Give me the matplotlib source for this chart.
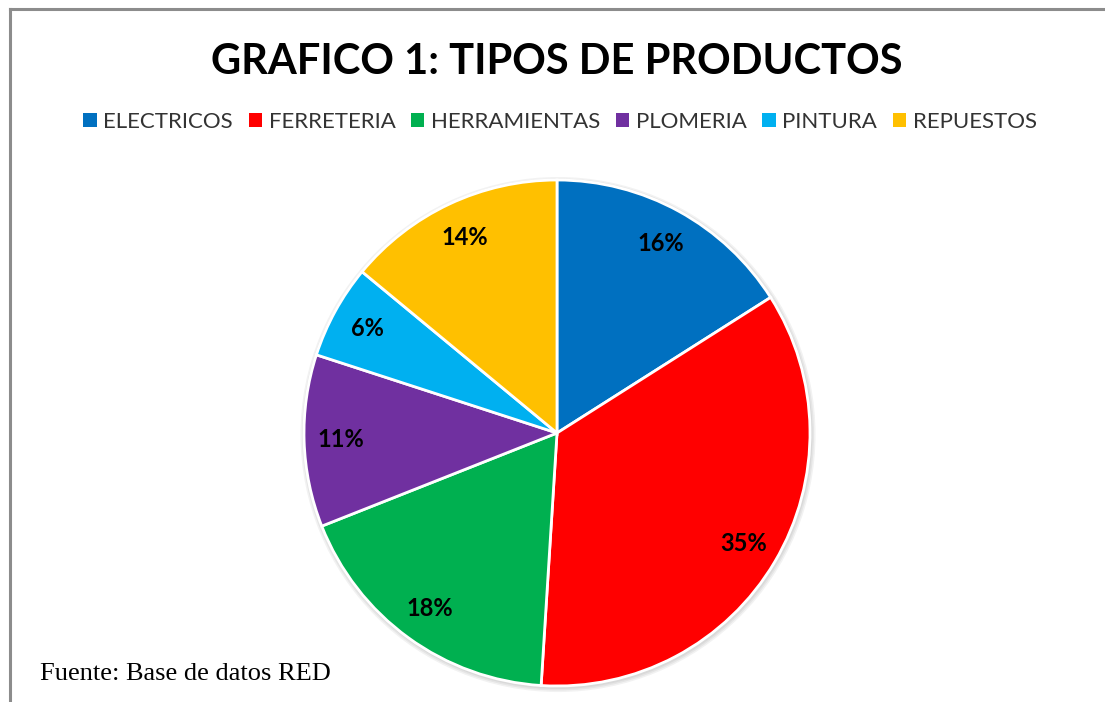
import matplotlib
matplotlib.use("Agg")
import matplotlib.pyplot as plt
from matplotlib.patches import Rectangle, Circle
from matplotlib.lines import Line2D

categories = ["ELECTRICOS", "FERRETERIA", "HERRAMIENTAS", "PLOMERIA", "PINTURA", "REPUESTOS"]
values = [16, 35, 18, 11, 6, 14]
colors = ["#0070C0", "#FF0000", "#00B050", "#7030A0", "#00B0F0", "#FFC000"]
title = "GRAFICO 1: TIPOS DE PRODUCTOS"
source = "Fuente: Base de datos RED"

W, H = 1105, 702
fig = plt.figure(figsize=(W / 100, H / 100), dpi=100)
fig.patch.set_facecolor("white")

# border lines (top and left)
fig.add_artist(Line2D([10 / W, 1.0], [1 - 9 / H, 1 - 9 / H], color="#8c8c8c", lw=2.2, zorder=10))
fig.add_artist(Line2D([10 / W, 10 / W], [0, 1 - 9 / H], color="#8c8c8c", lw=2.2, zorder=10))

cx, cy, r = 557, 433, 253
ax = fig.add_axes([(cx - r) / W, (H - cy - r) / H, 2 * r / W, 2 * r / H])
ax.set_aspect("equal")

# soft shadow
for i, a in enumerate([0.05, 0.05, 0.05]):
    ax.add_patch(Circle((0.004, -0.006), 1.0 + 0.006 * (i + 1), color="black", alpha=a, lw=0,
                        zorder=0, clip_on=False))

wedges, texts, autotexts = ax.pie(
    values, colors=colors, startangle=90, counterclock=False,
    autopct=lambda p: f"{p:.0f}%", pctdistance=0.855, radius=1.0,
    wedgeprops=dict(edgecolor="white", linewidth=2),
    textprops=dict(fontsize=17, fontweight="bold", family="Lato", color="black"),
)
for w in wedges:
    w.set_zorder(2)
    w.set_clip_on(False)
for t in autotexts:
    t.set_zorder(3)
ax.set_xlim(-1.0, 1.0)
ax.set_ylim(-1.0, 1.0)
ax.axis("off")

fig.text(557 / W, 1 - 62 / H, title, ha="center", va="center",
         fontsize=30, fontweight="bold", family="Lato", color="black")

handles = [Rectangle((0, 0), 1, 1, facecolor=c, edgecolor="none") for c in colors]
leg = fig.legend(handles, categories, loc="center", bbox_to_anchor=(560 / W, 1 - 122 / H),
                 ncol=6, frameon=False, handlelength=0.6, handleheight=0.6,
                 handletextpad=0.3, columnspacing=0.7, prop=dict(family="Lato", size=16))
for t in leg.get_texts():
    t.set_color("#333333")

# white box behind source text
fig.add_artist(Rectangle((11 / W, 0), (421 - 11) / W, (H - 657) / H, transform=fig.transFigure,
                         facecolor="white", edgecolor="none", zorder=5))
fig.text(40 / W, 1 - 674 / H, source, ha="left", va="center", fontsize=19,
         family="Liberation Serif", color="black", zorder=6)

fig.savefig("out.png", dpi=100, facecolor="white")
